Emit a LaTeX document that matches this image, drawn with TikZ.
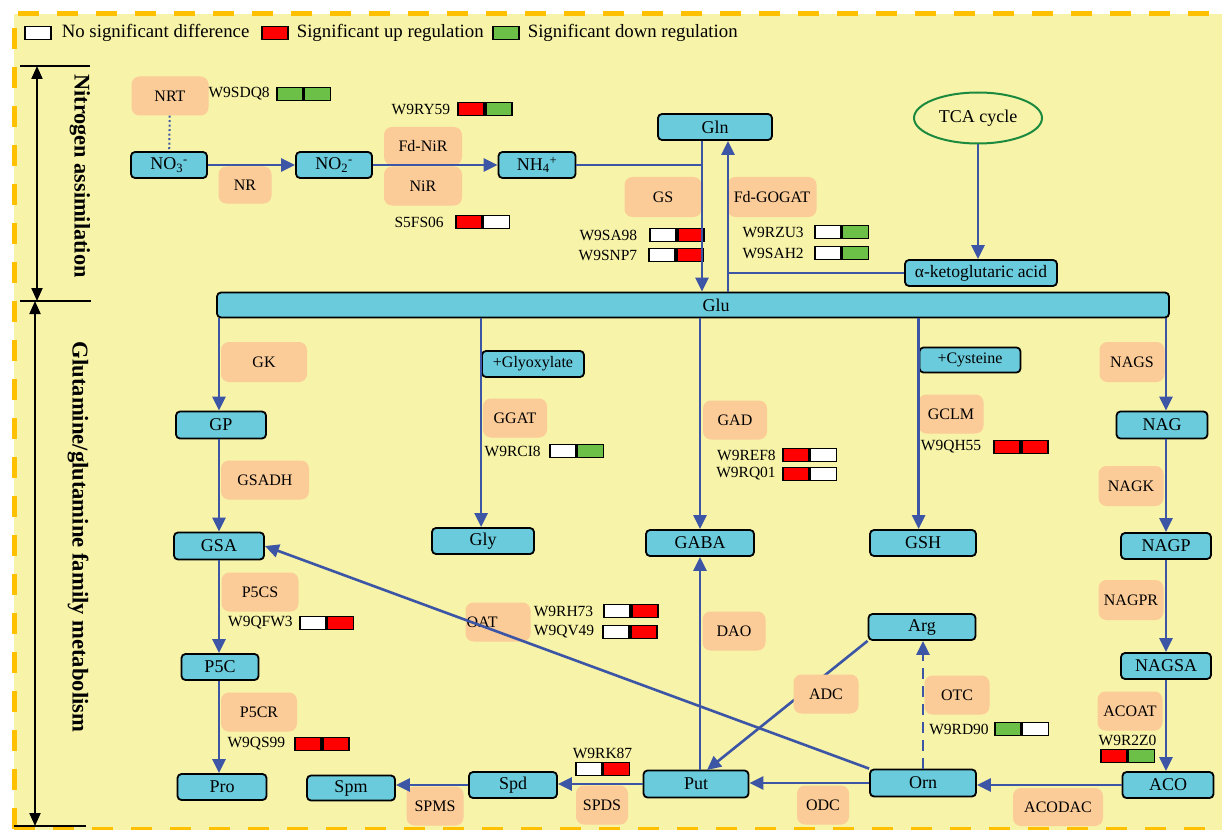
\documentclass[tikz,border=0pt]{standalone}
\usepackage{fontspec}
\setmainfont{Liberation Serif}
\usetikzlibrary{arrows.meta,positioning,shapes.geometric}
\definecolor{BgYellow}{HTML}{F7F3A9}
\definecolor{FrameOrange}{HTML}{FFC000}
\definecolor{MetBlue}{HTML}{6ACBDC}
\definecolor{EnzPeach}{HTML}{FBCB98}
\definecolor{ArrowBlue}{HTML}{3C55A5}
\definecolor{UpRed}{HTML}{FF0000}
\definecolor{DownGreen}{HTML}{6CBF47}
\definecolor{TcaGreen}{HTML}{1B8A3E}
\newcommand\metfont{\fontsize{18}{21}\selectfont}
\newcommand\smallmetfont{\fontsize{16}{19}\selectfont}
\newcommand\enzfont{\fontsize{16}{19}\selectfont}
\newcommand\genefont{\fontsize{15.5}{18}\selectfont}
\newcommand\legendfont{\fontsize{18.8}{22}\selectfont}
\newcommand\nodenothree{NO\textsubscript{3}\textsuperscript{-}}
\newcommand\nodenotwo{NO\textsubscript{2}\textsuperscript{-}}
\newcommand\nodenhfour{NH\textsubscript{4}\textsuperscript{+}}
\newcommand\nodeakg{α-ketoglutaric acid}
\newcommand\nodeglyox{+Glyoxylate}
\newcommand\nodecys{+Cysteine}
\newcommand\nodetca{TCA cycle}
% two coloured cells for one gene: name, x, y, left colour, right colour
\newcommand\genebar[5]{%
  \node[cell, fill=#4, anchor=east] (#1a) at (#2,#3) {};
  \node[cell, fill=#5, anchor=west] (#1b) at (#2,#3) {};}
\tikzstyle{mynodestyle} = [rectangle, inner sep=0pt, text=black]
\tikzstyle{mn} = [mynodestyle, rounded corners=4pt, draw=black, line width=1.8pt, fill=MetBlue, minimum width=90pt, minimum height=26pt, font=\metfont]
\tikzstyle{en} = [mynodestyle, rounded corners=8pt, fill=EnzPeach, minimum width=65pt, minimum height=39pt, font=\enzfont]
\tikzstyle{cell} = [rectangle, draw=black, line width=1.6pt, minimum width=26pt, minimum height=13pt, inner sep=0pt]
\tikzstyle{gt} = [inner sep=0pt, font=\genefont]
\tikzstyle{flow} = [draw=ArrowBlue, line width=2.6pt]
\tikzstyle{side} = [line width=2pt, {Triangle[length=13pt,width=11pt]}-{Triangle[length=13pt,width=11pt]}]
\tikzset{>={Triangle[length=14pt,width=13pt]}}

\begin{document}
\begin{tikzpicture}[x=1pt, y=-1pt]
\useasboundingbox (0,0) rectangle (1222,829);
\fill[BgYellow] (14,14) rectangle (1240,840);
\draw[FrameOrange, line width=5pt, dash pattern=on 21pt off 18pt] (14,829) -- (14,14) -- (1240,14);
\draw[FrameOrange, line width=5pt, dash pattern=on 21pt off 18pt] (14,829) -- (1240,829);

% legend
\node[cell, fill=white, anchor=west] (lgno) at (24,33) {};
\node[gt, font=\legendfont, right=10pt of lgno] (lgnotxt) {No significant difference};
\node[cell, fill=UpRed, anchor=west] (lgup) at (261,33) {};
\node[gt, font=\legendfont, right=8pt of lgup] (lguptxt) {Significant up regulation};
\node[cell, fill=DownGreen, anchor=west] (lgdown) at (492,33) {};
\node[gt, font=\legendfont, right=8pt of lgdown] (lgdowntxt) {Significant down regulation};

% side brackets
\coordinate (natop) at (37,66);
\coordinate (namid) at (37,301);
\coordinate (gmtop) at (35,301);
\coordinate (gmbot) at (35,826);
\draw[line width=2pt] (20,66) -- (90,66);
\draw[line width=2pt] (20,301) -- (91,301);
\draw[line width=2pt] (14,826) -- (86,826);
\draw[side] (natop) -- (namid);
\draw[side] (gmtop) -- (gmbot);
\node[rotate=-90, font=\bfseries\fontsize{22.3}{25}\selectfont] (natitle) at (80,176) {Nitrogen assimilation};
\node[rotate=-90, font=\bfseries\fontsize{22.6}{25}\selectfont] (gmtitle) at (78,537) {Glutamine/glutamine family metabolism};

% enzymes
\node[en, minimum width=77pt] (nrt) at (170,96) {NRT};
\node[en, minimum width=53pt, minimum height=37pt] (nr) at (245,185) {NR};
\node[en, minimum width=78pt, minimum height=38pt] (fdnir) at (423,146) {Fd-NiR};
\node[en, minimum width=78pt] (nir) at (423,186) {NiR};
\node[en, minimum width=77pt, minimum height=40pt] (gs) at (663,197) {GS};
\node[en, minimum width=89pt, minimum height=40pt] (fdgogat) at (772,197) {Fd-GOGAT};
\node[en, minimum width=86pt, minimum height=40pt] (gk) at (264,362) {GK};
\node[en, minimum width=88pt] (gsadh) at (265,480) {GSADH};
\node[en, minimum width=77pt] (p5cs) at (260,592) {P5CS};
\node[en, minimum width=76pt] (p5cr) at (259,712) {P5CR};
\node[en, minimum width=64pt] (ggat) at (515,418) {GGAT};
\node[en, minimum width=64pt] (gad) at (735,420) {GAD};
\node[en, text width=63pt, align=left, inner xsep=1pt] (oat) at (498,622) {OAT};
\node[en, minimum width=63pt] (dao) at (734,631) {DAO};
\node[en] (otc) at (957,695) {OTC};
\node[en, minimum width=52pt] (odc) at (823,805) {ODC};
\node[en, minimum width=52pt] (spds) at (602,805) {SPDS};
\node[en, minimum width=57pt] (spms) at (435,806) {SPMS};
\node[en, minimum width=90pt, minimum height=38pt] (acodac) at (1058,807) {ACODAC};
\node[en, minimum height=40pt] (nags) at (1132,362) {NAGS};
\node[en, minimum height=40pt] (nagk) at (1131,486) {NAGK};
\node[en, minimum height=40pt] (nagpr) at (1131,600) {NAGPR};
\node[en] (acoat) at (1130,711) {ACOAT};
\node[en] (gclm) at (951,414) {GCLM};

% metabolites
\node[mn, minimum width=76pt] (no3) at (169,165) {\nodenothree};
\node[mn, minimum width=76pt] (no2) at (334,165) {\nodenotwo};
\node[mn, minimum width=77pt] (nh4) at (537,165) {\nodenhfour};
\node[mn, minimum width=114pt] (gln) at (715,127) {Gln};
\node[ellipse, draw=TcaGreen, line width=2pt, minimum width=128pt, minimum height=51pt, inner sep=0pt, font=\metfont] (tca) at (978,118) {\nodetca};
\node[mn, minimum width=152pt, font=\fontsize{17.5}{20}\selectfont] (akg) at (981,273) {\nodeakg};
\node[mn, minimum width=952pt, minimum height=25pt, label={[font=\metfont, xshift=23pt]center:Glu}] (glu) at (693,305) {};
\node[mn, minimum height=27pt] (gp) at (221,425) {GP};
\node[mn, minimum height=27pt] (gsa) at (219,546) {GSA};
\node[mn, minimum width=77pt] (p5c) at (220,667) {P5C};
\node[mn, minimum width=89pt] (pro) at (222,787) {Pro};
\node[mn, minimum width=88pt, minimum height=25pt] (spm) at (351,788) {Spm};
\node[mn, minimum width=102pt, font=\smallmetfont] (glyox) at (533,364) {\nodeglyox};
\node[mn, minimum width=102pt] (gly) at (483,541) {Gly};
\node[mn, minimum width=108pt] (gaba) at (700,543) {GABA};
\node[mn, minimum width=88pt] (spd) at (513,785) {Spd};
\node[mn, minimum width=105pt, minimum height=27pt] (put) at (696,784) {Put};
\node[mn, minimum width=101pt, minimum height=25pt, font=\smallmetfont] (cys) at (970,360) {\nodecys};
\node[mn, minimum width=106pt] (gsh) at (923,543) {GSH};
\node[mn, minimum width=91pt, minimum height=27pt] (nag) at (1162,425) {NAG};
\node[mn] (nagp) at (1166,546) {NAGP};
\node[mn] (nagsa) at (1166,666) {NAGSA};
\node[mn, minimum width=91pt] (aco) at (1168,785) {ACO};
\node[mn, minimum width=106pt, minimum height=27pt] (orn) at (923,783) {Orn};
\node[mn, minimum width=107pt] (arg) at (922,627) {Arg};

% genes
\genebar{w9sdq8}{303.5}{94}{DownGreen}{DownGreen}
\node[gt, left=6pt of w9sdq8a] (w9sdq8) {W9SDQ8};
\genebar{w9ry59}{485}{109}{UpRed}{DownGreen}
\node[gt, left=7pt of w9ry59a] (w9ry59) {W9RY59};
\genebar{s5fs06}{482.5}{222}{UpRed}{white}
\node[gt, left=11pt of s5fs06a] (s5fs06) {S5FS06};
\genebar{w9sa98}{677}{235}{white}{UpRed}
\node[gt, left=12pt of w9sa98a] (w9sa98) {W9SA98};
\genebar{w9snp7}{676}{255}{white}{UpRed}
\node[gt, left=11pt of w9snp7a] (w9snp7) {W9SNP7};
\genebar{w9rzu3}{841.5}{232}{white}{DownGreen}
\node[gt, left=10pt of w9rzu3a] (w9rzu3) {W9RZU3};
\genebar{w9sah2}{841.5}{253}{white}{DownGreen}
\node[gt, left=10pt of w9sah2a] (w9sah2) {W9SAH2};
\genebar{w9rci8}{576.5}{451}{white}{DownGreen}
\node[gt, left=8pt of w9rci8a] (w9rci8) {W9RCI8};
\genebar{w9ref8}{809.5}{455}{UpRed}{white}
\node[gt, left=6pt of w9ref8a] (w9ref8) {W9REF8};
\genebar{w9rq01}{809.5}{474}{UpRed}{white}
\node[gt, left=6pt of w9rq01a] (w9rq01) {W9RQ01};
\genebar{w9qh55}{1021}{447}{UpRed}{UpRed}
\node[gt, left=12pt of w9qh55a] (w9qh55) {W9QH55};
\genebar{w9qfw3}{326.5}{623}{white}{UpRed}
\node[gt, left=6pt of w9qfw3a] (w9qfw3) {W9QFW3};
\genebar{w9rh73}{631}{611}{white}{UpRed}
\node[gt, left=10pt of w9rh73a] (w9rh73) {W9RH73};
\genebar{w9qv49}{630}{632}{white}{UpRed}
\node[gt, left=8pt of w9qv49a] (w9qv49) {W9QV49};
\genebar{w9qs99}{322}{744}{UpRed}{UpRed}
\node[gt, left=9pt of w9qs99a] (w9qs99) {W9QS99};
\genebar{w9rk87}{602.5}{769}{white}{UpRed}
\node[gt, above=3pt of w9rk87a.north east] (w9rk87) {W9RK87};
\genebar{w9rd90}{1021.5}{729}{DownGreen}{white}
\node[gt, left=5pt of w9rd90a] (w9rd90) {W9RD90};
\genebar{w9r2z0}{1127.5}{756}{UpRed}{DownGreen}
\node[gt, above=3pt of w9r2z0a.north east] (w9r2z0) {W9R2Z0};

% connectors
\coordinate (gsjoin) at (702,165);
\coordinate (gogat) at (728,273);
\coordinate (putin) at (707,770);
\draw[flow, ->] (no3) -- (no2);
\draw[flow, ->] (no2) -- (nh4);
\draw[draw=ArrowBlue, line width=2pt, dash pattern=on 2pt off 2.5pt] (nrt) -- (no3);
\draw[flow] (nh4) -- (gsjoin);
\draw[flow, ->] (gln.south -| gsjoin) -- (glu.north -| gsjoin);
\draw[flow, ->] (glu.north -| gogat) -- (gln.south -| gogat);
\draw[flow] (akg) -- (gogat);
\draw[flow, ->] (tca.south) -- (tca.south |- akg.north);
\draw[flow, ->] (glu.south -| gsa) -- (gsa |- gp.north);
\draw[flow, ->] (gsa |- gp.south) -- (gsa.north);
\draw[flow, ->] (gsa) -- (gsa |- p5c.north);
\draw[flow, ->] (gsa |- p5c.south) -- (gsa |- pro.north);
\draw[flow, ->] (glyox.west |- glu.south) -- (glyox.west |- gly.north);
\draw[flow, ->] (gaba |- glu.south) -- (gaba.north);
\draw[flow, ->] (gaba.south |- put.north) -- (gaba.south);
\draw[flow, ->] (cys.west |- glu.south) -- (cys.west |- gsh.north);
\draw[flow, ->] (nagp |- glu.south) -- (nagp |- nag.north);
\draw[flow, ->] (nagp |- nag.south) -- (nagp.north);
\draw[flow, ->] (nagp) -- (nagsa);
\draw[flow, ->] (nagsa) -- (nagsa |- aco.north);
\draw[flow, ->] (aco) -- (aco -| orn.east);
\draw[flow, ->] (orn) -- (orn -| put.east);
\draw[flow, ->] (put) -- (put -| spd.east);
\draw[flow, ->] (spd) -- (spd -| spm.east);
\draw[flow, ->] (orn.north west) -- (gsa.east);
\draw[flow, ->] (arg.south west) -- (putin);
\draw[flow, ->, dash pattern=on 11pt off 7pt] (orn) -- (orn |- arg.south);
\node[en] (adc) at (826,694) {ADC};
\end{tikzpicture}
\end{document}
